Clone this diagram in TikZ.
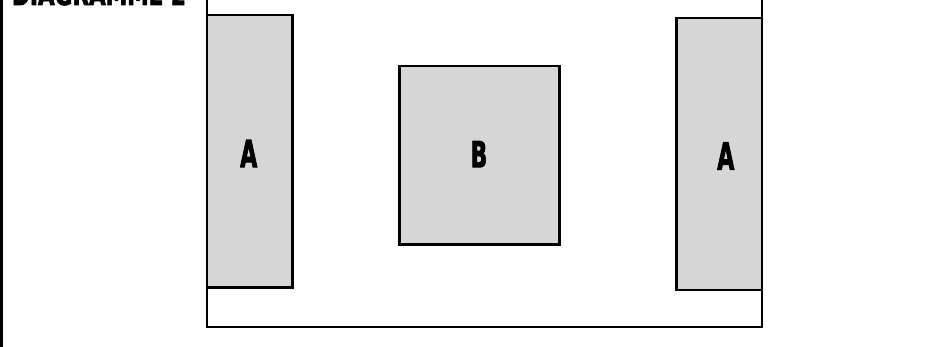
\documentclass[tikz,border=0pt]{standalone}
\usepackage{fontspec}
\setmainfont{DejaVu Sans}[BoldFeatures={FakeBold=3}]
\usepackage{graphicx}
\definecolor{boxgray}{HTML}{D6D6D6}
\begin{document}
\begin{tikzpicture}[x=1pt,y=-1pt,
  zone/.style={draw=black,fill=boxgray,line width=2.6pt,inner sep=0pt,outer sep=0pt,rectangle},
  framel/.style={line width=2.8pt,draw=black},
  lbl/.style={inner sep=0pt,outer sep=0pt,anchor=center}]
\useasboundingbox (0,0) rectangle (941,347);
% left border line
\coordinate (lt) at (1.5,-10);
\coordinate (lb) at (1.5,360);
\draw[framel] (lt) -- (lb);
% title (cut off at top)
\node[inner sep=0pt,outer sep=0pt,anchor=base west] (title) at (12,5) {\fontsize{30pt}{30pt}\selectfont\bfseries\scalebox{0.72}[1]{DIAGRAMME 2}};
% outer frame
\coordinate (ftl) at (207,-10);
\coordinate (fbl) at (207,327);
\coordinate (fbr) at (762,327);
\coordinate (ftr) at (762,-10);
\draw[framel] (ftl) -- (fbl) -- (fbr) -- (ftr);
% boxes
\node[zone,minimum width=85.5pt,minimum height=272.5pt] (A1) at (249.75,151.25) {};
\node[zone,minimum width=160pt,minimum height=178.5pt] (B) at (479.5,155.25) {};
\node[zone,minimum width=85.5pt,minimum height=272pt] (A2) at (719.25,154) {};
% labels
\node[lbl] (la1) at (248.7,153.5) {\resizebox{17pt}{27pt}{\bfseries A}};
\node[lbl] (lb) at (479,154.2) {\resizebox{16.5pt}{26pt}{\bfseries B}};
\node[lbl] (la2) at (725.8,156) {\resizebox{17pt}{27pt}{\bfseries A}};
\end{tikzpicture}
\end{document}
